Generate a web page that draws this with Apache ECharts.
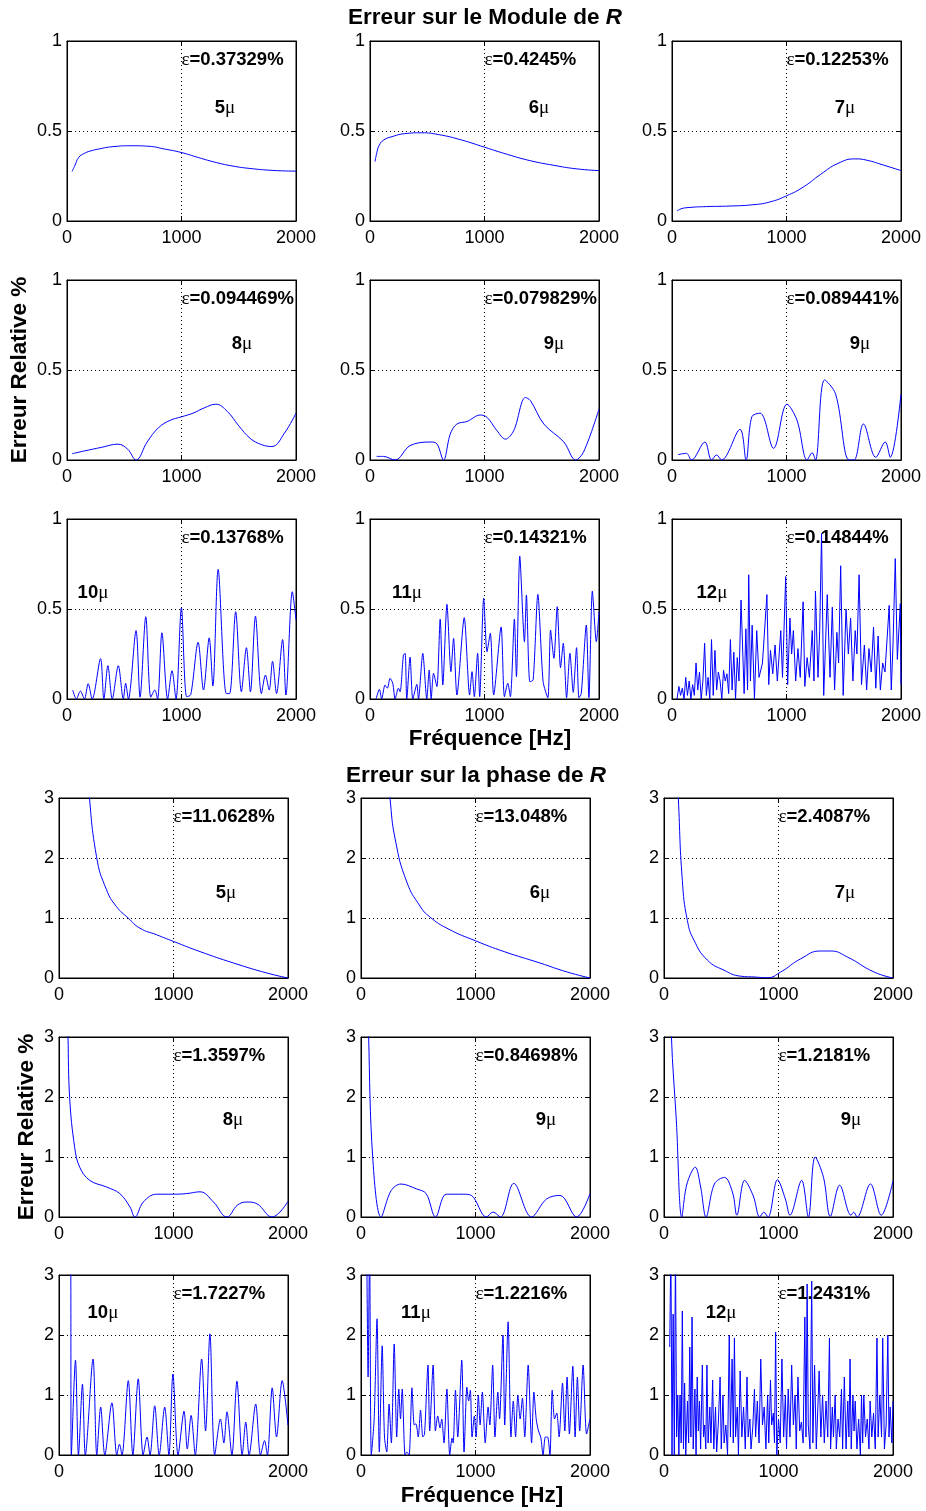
<!DOCTYPE html>
<html><head><meta charset="utf-8">
<script src="https://cdn.jsdelivr.net/npm/echarts@6/dist/echarts.min.js"></script>
<style>html,body{margin:0;padding:0;background:#fff}#c{width:926px;height:1511px}</style>
</head><body><div id="c"></div>
<script>
// ---------------- DATA ----------------
const xTicks = [0, 1000, 2000];
const modYTicks = [0, 0.5, 1];
const phaseYTicks = [0, 1, 2, 3];
const muLabels = ['5', '6', '7', '8', '9', '9', '10', '11', '12'];
const modEps = ['0.37329', '0.4245', '0.12253', '0.094469', '0.079829', '0.089441', '0.13768', '0.14321', '0.14844'];
const phaseEps = ['11.0628', '13.048', '2.4087', '1.3597', '0.84698', '1.2181', '1.7227', '1.2216', '1.2431'];

// Module error (%) vs frequency (Hz)
const mod5 = [[44,0.275],[70,0.31],[102,0.353],[150,0.375],[200,0.388],[278,0.40],[400,0.413],[571,0.418],[717,0.415],[850,0.40],[996,0.381],[1150,0.352],[1303,0.325],[1450,0.305],[1596,0.292],[1800,0.281],[2000,0.277]];
const mod6 = [[44,0.33],[60,0.38],[80,0.42],[120,0.45],[200,0.47],[300,0.485],[450,0.49],[600,0.48],[800,0.45],[1000,0.41],[1200,0.37],[1400,0.335],[1600,0.31],[1800,0.29],[2000,0.28]];
const mod7 = [[44,0.055],[80,0.068],[150,0.075],[300,0.08],[500,0.083],[700,0.09],[850,0.105],[1000,0.14],[1150,0.19],[1300,0.26],[1450,0.32],[1600,0.345],[1700,0.338],[1850,0.31],[2000,0.28]];
const mod8 = [[44,0.035],[150,0.05],[300,0.07],[445,0.088],[530,0.06],[603,0],[700,0.1],[800,0.18],[900,0.22],[1000,0.24],[1100,0.26],[1200,0.29],[1300,0.31],[1400,0.27],[1500,0.19],[1600,0.12],[1700,0.085],[1790,0.075],[1900,0.15],[2000,0.26]];
const mod9a = [[58,0.02],[117,0.02],[219,0],[350,0.08],[526,0.1],[584,0.09],[642,0],[701,0.144],[759,0.2],[847,0.214],[964,0.25],[1022,0.237],[1109,0.163],[1182,0.116],[1255,0.163],[1358,0.347],[1401,0.33],[1518,0.2],[1693,0.1],[1796,0],[1869,0.05],[2000,0.283]];
const mod9b = [[53,0.03],[126,0.037],[170,0],[287,0.1],[345,0],[389,0.028],[433,0],[594,0.17],[647,0],[697,0.24],[770,0.26],[887,0.065],[1004,0.31],[1092,0.22],[1180,0],[1224,0.04],[1253,0],[1332,0.445],[1429,0.366],[1546,0],[1590,0],[1672,0.2],[1780,0.015],[1862,0.1],[1906,0.015],[2000,0.366]];
const mod10 = [[50,0.05],[82,0],[117,0.044],[152,0],[185,0.085],[220,0],[293,0.224],[322,0],[357,0.185],[395,0],[448,0.185],[492,0],[512,0.087],[536,0],[603,0.38],[638,0.01],[688,0.457],[732,0.01],[767,0.05],[791,0],[829,0.368],[879,0],[917,0.157],[952,0],[999,0.507],[1045,0.013],[1081,0.024],[1145,0.315],[1192,0.05],[1242,0.34],[1274,0.072],[1320,0.72],[1391,0.03],[1420,0.03],[1473,0.485],[1523,0.04],[1567,0.285],[1602,0.04],[1646,0.46],[1698,0.03],[1733,0.133],[1766,0.05],[1795,0.21],[1830,0.03],[1883,0.33],[1912,0.022],[1968,0.596],[2000,0.44]];
const mod11 = [[53,0],[82,0.054],[102,0],[131,0.078],[152,0.06],[175,0.115],[199,0.087],[219,0],[248,0.06],[263,0.04],[292,0.244],[307,0.254],[321,0],[350,0.233],[374,0],[409,0.081],[423,0],[461,0.254],[496,0],[517,0.161],[534,0],[555,0.143],[584,0.069],[613,0.444],[636,0.078],[672,0.526],[707,0.152],[730,0.337],[759,0.022],[823,0.452],[870,0.022],[891,0.152],[911,0.013],[940,0.254],[958,0.013],[993,0.56],[1022,0.263],[1051,0.365],[1080,0.022],[1145,0.4],[1174,0.013],[1203,0.087],[1226,0.013],[1261,0.444],[1279,0.124],[1308,0.794],[1349,0.318],[1366,0.578],[1396,0.096],[1425,0.106],[1466,0.581],[1512,0.096],[1553,0.007],[1577,0.383],[1606,0.226],[1635,0.513],[1664,0.174],[1688,0.31],[1717,0.007],[1746,0.254],[1775,0.037],[1804,0.285],[1825,0.007],[1845,0.03],[1889,0.411],[1912,0.007],[1942,0.6],[1977,0.318],[2000,0.485]];
const mod12 = [[44,0],[60,0.07],[75,0.02],[90,0.06],[105,0],[120,0.12],[135,0.02],[150,0.1],[165,0],[180,0.08],[195,0.02],[210,0.2],[225,0.05],[240,0.15],[255,0],[270,0.1],[285,0.31],[300,0.02],[315,0.12],[330,0],[345,0.33],[360,0.02],[375,0.27],[390,0.05],[405,0.15],[420,0.1],[435,0],[450,0.16],[465,0.1],[480,0.14],[495,0.03],[510,0.33],[525,0.05],[540,0.26],[555,0],[570,0.23],[585,0.1],[603,0.55],[615,0.56],[630,0.03],[645,0.39],[660,0.05],[670,0.69],[685,0.1],[700,0.41],[720,0],[740,0.38],[760,0.12],[790,0.2],[829,0.58],[845,0.08],[860,0.27],[880,0.14],[900,0.3],[920,0.1],[950,0.38],[965,0.12],[993,0.68],[1010,0.08],[1030,0.45],[1045,0.25],[1060,0.38],[1080,0.1],[1100,0.28],[1120,0.12],[1145,0.54],[1160,0.07],[1180,0.23],[1200,0.12],[1225,0.38],[1240,0.1],[1253,0.6],[1275,0.12],[1290,0.38],[1306,0.92],[1325,0.02],[1356,0.58],[1380,0.12],[1400,0.51],[1420,0.05],[1440,0.37],[1455,0.2],[1473,0.74],[1495,0.02],[1520,0.5],[1540,0.25],[1560,0.45],[1580,0.1],[1600,0.38],[1615,0.25],[1634,0.69],[1655,0.08],[1680,0.3],[1700,0.05],[1720,0.28],[1740,0.15],[1760,0.4],[1780,0.06],[1800,0.35],[1820,0.05],[1840,0.2],[1860,0.15],[1897,0.52],[1915,0.05],[1930,0.3],[1950,0.78],[1968,0.22],[1994,0.53],[2000,0.08]];

// Phase error (%) vs frequency (Hz)
const ph5 = [[50,8],[150,5],[250,3.3],[327,2.03],[415,1.47],[502,1.19],[604,1.0],[707,0.83],[853,0.72],[999,0.61],[1232,0.44],[1524,0.25],[1816,0.083],[2000,0]];
const ph6 = [[50,8],[150,5],[253,3],[300,2.3],[400,1.6],[515,1.2],[600,1.02],[760,0.82],[1000,0.62],[1250,0.44],[1563,0.25],[1800,0.1],[2000,0]];
const ph7 = [[50,8],[100,4],[125,3],[160,1.63],[204,0.96],[262,0.63],[378,0.3],[524,0.13],[670,0.03],[786,0.017],[902,0.005],[1019,0.1],[1194,0.32],[1368,0.45],[1455,0.45],[1601,0.35],[1834,0.1],[2000,0]];
const ph8 = [[50,6],[79,3],[93,1.99],[137,1.16],[181,0.83],[269,0.61],[415,0.5],[531,0.39],[619,0.17],[663,0],[736,0.25],[853,0.38],[999,0.38],[1115,0.39],[1232,0.42],[1349,0.25],[1466,0],[1560,0.2],[1641,0.25],[1729,0.22],[1860,0],[2000,0.26]];
const ph9a = [[50,5],[67,3],[102,1.0],[175,0],[263,0.44],[350,0.55],[482,0.47],[569,0.39],[651,0],[745,0.38],[891,0.38],[964,0.36],[1095,0],[1153,0.083],[1218,0],[1334,0.56],[1489,0],[1620,0.3],[1737,0.36],[1883,0],[2000,0.39]];
const ph9b = [[50,5],[65,3],[108,1.6],[155,0],[200,0.55],[273,0.83],[320,0.5],[367,0],[440,0.55],[528,0.66],[600,0.4],[636,0.03],[704,0.61],[780,0.35],[836,0],[871,0.08],[909,0],[991,0.62],[1060,0.3],[1100,0.03],[1202,0.61],[1261,0],[1320,1.0],[1393,0.66],[1452,0.01],[1534,0.53],[1633,0.03],[1657,0.08],[1686,0],[1803,0.55],[1897,0.03],[2000,0.6]];
const ph10 = [[50,5],[100,4],[108,0],[144,1.58],[170,0],[205,1.18],[230,0],[297,1.6],[330,0],[364,0.8],[400,0],[462,0.87],[505,0],[528,0.18],[550,0],[605,1.24],[645,0],[692,1.27],[735,0],[769,0.3],[795,0],[836,0.82],[875,0],[923,0.8],[960,0],[995,1.35],[1040,0],[1092,0.73],[1120,0.1],[1154,0.66],[1190,0],[1246,1.6],[1280,0.4],[1318,2.02],[1360,0],[1410,0.6],[1440,0.2],[1467,0.72],[1510,0],[1554,1.23],[1600,0],[1631,0.55],[1660,0],[1718,0.85],[1760,0],[1795,0.24],[1820,0],[1862,1.12],[1900,0.3],[1949,1.24],[2000,0.5]];
const ph11 = [[50,3.5],[62,1.3],[75,3.5],[90,0],[115,0.6],[140,2.27],[160,0.05],[185,1.82],[205,0.3],[225,0.05],[245,0.85],[265,0.2],[290,1.85],[312,0.3],[330,1.1],[345,0.6],[360,1.1],[385,0],[400,0.05],[420,0],[445,1.12],[465,0.5],[480,0.52],[500,0.3],[520,0.75],[540,0.3],[555,0.35],[585,1.5],[600,0.4],[630,1.5],[650,0.4],[670,0.65],[690,0.45],[705,0.6],[725,0.2],[750,1.1],[775,0],[795,0.28],[805,0.2],[825,1.08],[845,0.3],[880,1.58],[900,0.05],[925,1.13],[940,0.9],[955,1.08],[970,0.3],[990,0.65],[1005,0.3],[1025,1.0],[1040,0.5],[1060,1.05],[1085,0.2],[1110,0.8],[1125,0.5],[1150,1.5],[1170,0.3],[1195,1.05],[1210,0.6],[1240,2.0],[1255,0.5],[1285,2.22],[1310,0.3],[1330,0.9],[1350,0.3],[1370,1.0],[1390,0.6],[1410,0.95],[1430,0.3],[1460,1.5],[1490,0.2],[1510,1.05],[1530,0.6],[1550,0.4],[1570,0.3],[1590,0],[1610,0.3],[1630,0.3],[1650,0],[1670,1.08],[1690,0.6],[1710,0.7],[1730,0.3],[1760,1.2],[1780,0.4],[1800,1.3],[1820,0.35],[1850,1.48],[1870,0.3],[1890,1.3],[1910,0.4],[1940,1.5],[1970,0.35],[2000,0.6]];
const ph12 = [[50,1.8],[60,3.5],[70,0],[80,2.35],[90,0],[100,3.5],[110,0.3],[120,1.0],[130,0],[140,1.0],[150,0.2],[160,2.4],[170,0.1],[180,1.2],[190,0],[205,0.9],[215,0.2],[225,1.8],[235,0.3],[245,2.3],[255,0.1],[270,1.1],[280,0],[290,1.3],[300,0.4],[310,0.9],[320,0.1],[335,1.5],[345,0.3],[355,0.5],[365,0.1],[375,1.5],[385,0.2],[400,0.8],[410,0.2],[425,1.25],[435,0.1],[450,0.8],[460,0.05],[475,0.55],[490,1.3],[500,0.1],[515,1.0],[525,0.2],[540,0.5],[555,0],[570,2.0],[580,0.3],[595,1.6],[605,0.2],[615,1.95],[625,0.3],[640,0.8],[650,0],[665,1.4],[680,0.3],[695,0.8],[710,0.1],[725,1.3],[735,0.3],[750,0.6],[760,0.1],[775,0.45],[790,1.1],[800,0.3],[815,0.9],[830,0.2],[845,1.6],[860,0.5],[875,0.8],[890,0.1],[905,1.0],[915,0.2],[930,1.25],[940,0.5],[955,0.7],[965,0.2],[975,2.05],[985,0],[1000,0.6],[1015,0.2],[1030,1.6],[1045,0.3],[1060,1.0],[1070,0.1],[1085,1.1],[1100,0.3],[1115,1.5],[1130,0.5],[1145,1.0],[1155,0.1],[1170,1.3],[1185,0.4],[1200,0.55],[1215,0.2],[1230,2.3],[1240,0.3],[1250,2.85],[1260,0.5],[1275,0.1],[1290,2.9],[1300,0.2],[1315,1.5],[1330,0.1],[1340,0.6],[1355,1.4],[1370,0.3],[1385,1.0],[1400,0.2],[1415,0.9],[1430,0.3],[1445,1.95],[1455,0.1],[1470,0.8],[1480,0.3],[1495,1.0],[1505,0.1],[1520,0.6],[1535,0.3],[1550,1.1],[1560,0.1],[1575,1.3],[1590,0.1],[1605,0.9],[1615,0.3],[1625,1.6],[1635,0.1],[1650,1.0],[1660,0.4],[1670,0.9],[1685,0.1],[1700,0.6],[1715,0],[1725,1.0],[1735,0.2],[1745,1.0],[1760,0.3],[1775,0.6],[1790,0.1],[1800,0.9],[1815,0.3],[1830,0.7],[1845,0.1],[1860,1.95],[1870,0.3],[1885,1.0],[1900,0.3],[1910,1.95],[1925,0.1],[1940,0.5],[1955,2.0],[1965,0.3],[1975,0.8],[1990,0.2],[2000,0.9]];

const modSeries = [mod5, mod6, mod7, mod8, mod9a, mod9b, mod10, mod11, mod12];
const phaseSeries = [ph5, ph6, ph7, ph8, ph9a, ph9b, ph10, ph11, ph12];

// ---------------- LAYOUT / STYLE ----------------
const FONT = '"Liberation Sans", Arial, Helvetica, sans-serif';
const GREEK = '"Liberation Serif", "DejaVu Serif", serif';
const BLUE = '#0000ff';
const PW = 229, PH = 180;
const modCols = [67, 370, 672], modRows = [41, 280, 519];
const phCols = [59, 361, 664], phRows = [798, 1037, 1275];
// label placement (data coords, layout only)
const modMuPos = [[1380,0.628],[1476,0.628],[1511,0.628],[1528,0.644],[1607,0.644],[1642,0.644],[227,0.589],[323,0.589],[349,0.589]];
const phMuPos = [[1459,1.417],[1563,1.417],[1581,1.417],[1520,1.617],[1616,1.617],[1633,1.617],[384,2.37],[480,2.37],[498,2.37]];
const smoothSet = [0.5,0.5,0.5,0.4,0.35,0.35,0.3,0.25,0];

const option = {animation:false, backgroundColor:'#fff', grid:[], xAxis:[], yAxis:[], series:[], graphic:[]};

const lab = {fontSize:18, fontFamily:FONT, color:'#000', formatter:(v) => String(v)};
const rich = {
  gk:{fontFamily:GREEK, fontSize:19, color:'#000'},
  bt:{fontFamily:FONT, fontSize:18.5, fontWeight:'bold', color:'#000'}
};

function xAxisDef(g, pos, showLabel) {
  return {type:'value', gridIndex:g, position:pos, min:xTicks[0], max:xTicks[xTicks.length-1], interval:xTicks[1]-xTicks[0],
    axisLine:{show:true, onZero:false, lineStyle:{color:'#000', width:1}},
    axisTick:{show:true, inside:true, length:5, lineStyle:{color:'#000'}},
    axisLabel:Object.assign({show:showLabel, margin:8}, lab),
    splitLine:{show:showLabel, lineStyle:{color:'#000', width:1, type:[1,3]}}};
}
function yAxisDef(g, pos, showLabel, ticks) {
  return {type:'value', gridIndex:g, position:pos, min:ticks[0], max:ticks[ticks.length-1], interval:ticks[1]-ticks[0],
    axisLine:{show:true, onZero:false, lineStyle:{color:'#000', width:1}},
    axisTick:{show:true, inside:true, length:5, lineStyle:{color:'#000'}},
    axisLabel:Object.assign({show:showLabel, margin:5}, lab),
    splitLine:{show:showLabel, lineStyle:{color:'#000', width:1, type:[1,3]}}};
}

function panel(left, top, data, ticks, eps, mu, epsY, muPos, smooth) {
  const g = option.grid.length;
  option.grid.push({left:left, top:top, width:PW, height:PH, show:true, borderColor:'#000', borderWidth:1, backgroundColor:'transparent'});
  const xi = option.xAxis.length, yi = option.yAxis.length;
  option.xAxis.push(xAxisDef(g,'bottom',true), xAxisDef(g,'top',false));
  option.yAxis.push(yAxisDef(g,'left',true,ticks), yAxisDef(g,'right',false,ticks));
  option.series.push({type:'line', xAxisIndex:xi, yAxisIndex:yi, data:data, smooth:smooth, symbol:'none', clip:true,
    lineStyle:{color:BLUE, width:1}, itemStyle:{color:BLUE}, z:3,
    markPoint:{silent:true, symbol:'rect', symbolSize:0.01, itemStyle:{color:'rgba(0,0,0,0)'},
      data:[
        {coord:[1000, epsY], label:{show:true, position:'right', distance:0, formatter:() => '{gk|ε}{bt|=' + eps + '%}', rich:rich}},
        {coord:muPos, label:{show:true, position:'inside', formatter:() => '{bt|' + mu + '}{gk|μ}', rich:rich}}
      ]}});
}

for (let i = 0; i < 9; i++) {
  const r = Math.floor(i/3), c = i % 3;
  panel(modCols[c], modRows[r], modSeries[i], modYTicks, modEps[i], muLabels[i], 0.894, modMuPos[i], smoothSet[i]);
}
for (let i = 0; i < 9; i++) {
  const r = Math.floor(i/3), c = i % 3;
  panel(phCols[c], phRows[r], phaseSeries[i], phaseYTicks, phaseEps[i], muLabels[i], 2.68, phMuPos[i], smoothSet[i]);
}

const TS = 22.5;
const tRich = {t:{fontFamily:FONT, fontSize:TS, fontWeight:'bold', fill:'#000'}, ti:{fontFamily:FONT, fontSize:TS, fontWeight:'bold', fontStyle:'italic', fill:'#000'}};
function txt(x, y, text, rot) {
  return {type:'text', x:x, y:y, rotation:rot||0, style:{text:text, rich:tRich, align:'center', verticalAlign:'middle', fill:'#000', fontFamily:FONT, fontSize:TS, fontWeight:'bold'}};
}
option.graphic = [
  txt(485, 18, '{t|Erreur sur le Module de }{ti|R}'),
  txt(476, 776, '{t|Erreur sur la phase de }{ti|R}'),
  txt(490, 739, '{t|Fréquence [Hz]}'),
  txt(482, 1496, '{t|Fréquence [Hz]}'),
  txt(20, 370, '{t|Erreur Relative %}', Math.PI/2),
  txt(27, 1127, '{t|Erreur Relative %}', Math.PI/2)
];

const chart = echarts.init(document.getElementById('c'), null, {renderer:'canvas'});
chart.setOption(option);
</script>
</body></html>
